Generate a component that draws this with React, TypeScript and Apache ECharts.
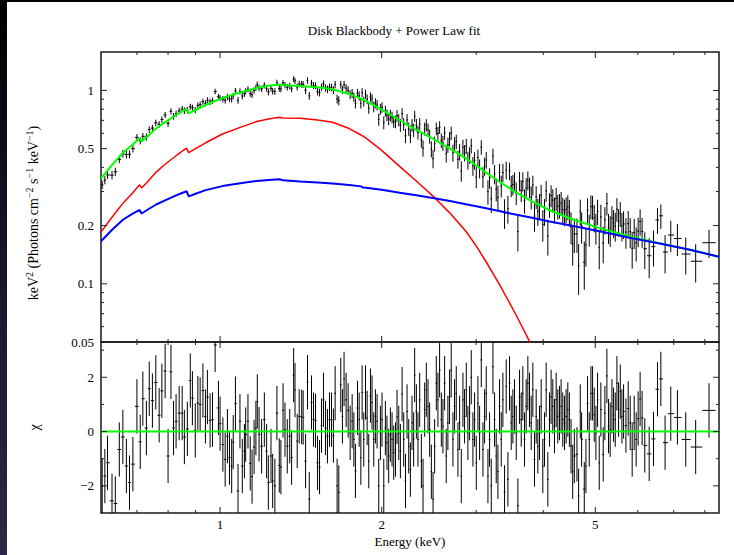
import React, { useEffect, useRef } from "react";
import * as echarts from "echarts";

const FONT = "'Liberation Serif', 'Times New Roman', Times, serif";

const X_MIN = 0.6;
const X_MAX = 8.5;
const FLUX_MIN = 0.05;
const FLUX_MAX = 1.58;
const CHI_MIN = -3;
const CHI_MAX = 3.3;

// model components (keV^2 photons cm^-2 s^-1 keV^-1)
const modelEnergy = [0.6, 0.63, 0.66, 0.685, 0.708, 0.714, 0.73, 0.76, 0.79, 0.82, 0.845, 0.866, 0.874, 0.9, 0.94, 1.01, 1.09, 1.17, 1.23, 1.29, 1.31, 1.41, 1.52, 1.62, 1.74, 1.83, 1.845, 1.87, 2.0, 2.16, 2.32, 2.49, 2.68, 2.87, 3.0, 3.13, 3.31, 3.55, 3.79, 4.11, 4.5, 5.09, 5.8, 6.77, 7.5, 8.5];
const diskBlackbody = [0.185, 0.222, 0.262, 0.292, 0.325, 0.313, 0.333, 0.378, 0.415, 0.45, 0.48, 0.503, 0.477, 0.5, 0.536, 0.595, 0.644, 0.69, 0.712, 0.726, 0.72, 0.717, 0.703, 0.684, 0.635, 0.588, 0.58, 0.567, 0.49, 0.405, 0.34, 0.285, 0.232, 0.187, 0.157, 0.13, 0.1, 0.07, 0.049, 0.03, 0.017, null, null, null, null, null];
const powerLaw = [0.166, 0.191, 0.215, 0.229, 0.241, 0.231, 0.24, 0.257, 0.27, 0.283, 0.293, 0.301, 0.283, 0.292, 0.305, 0.32, 0.331, 0.34, 0.344, 0.347, 0.343, 0.338, 0.334, 0.33, 0.324, 0.319, 0.315, 0.314, 0.306, 0.296, 0.287, 0.278, 0.268, 0.258, 0.252, 0.246, 0.238, 0.228, 0.22, 0.21, 0.2, 0.187, 0.173, 0.159, 0.15, 0.138];
const totalModel = [0.351, 0.413, 0.477, 0.521, 0.566, 0.544, 0.573, 0.635, 0.685, 0.733, 0.773, 0.804, 0.76, 0.792, 0.841, 0.915, 0.975, 1.03, 1.056, 1.073, 1.063, 1.055, 1.037, 1.014, 0.959, 0.907, 0.895, 0.881, 0.796, 0.701, 0.627, 0.563, 0.5, 0.445, 0.409, 0.376, 0.338, 0.298, 0.269, 0.24, 0.217, 0.194, 0.1755, 0.159, 0.15, 0.138];

// spectral bins (keV) and their residuals (chi)
const binEnergy = [
  0.603, 0.61, 0.617, 0.629, 0.638, 0.649, 0.659, 0.669, 0.678, 0.688, 0.7, 0.71, 0.718, 0.729, 0.738, 0.748, 0.759, 0.77, 0.779, 0.79,
  0.8, 0.81, 0.819, 0.828, 0.839, 0.85, 0.858, 0.869, 0.88, 0.888, 0.899, 0.909, 0.918, 0.929, 0.939, 0.947, 0.958, 0.968, 0.979, 0.993,
  1.0, 1.012, 1.022, 1.032, 1.041, 1.051, 1.058, 1.068, 1.08, 1.089, 1.1, 1.11, 1.116, 1.127, 1.138, 1.147, 1.157, 1.166, 1.173,
  1.182, 1.195, 1.209, 1.221, 1.23, 1.244, 1.253, 1.265, 1.276, 1.289, 1.298, 1.31, 1.321, 1.334, 1.348, 1.359, 1.371, 1.379, 1.392, 1.404,
  1.419, 1.428, 1.443, 1.455, 1.466, 1.48, 1.493, 1.506, 1.519, 1.532, 1.545, 1.558, 1.572, 1.585, 1.599, 1.613, 1.626, 1.638, 1.652, 1.664,
  1.678, 1.69, 1.702, 1.717, 1.732, 1.747, 1.762, 1.775, 1.787, 1.803, 1.816, 1.829, 1.839, 1.852, 1.866, 1.879, 1.892, 1.906, 1.919, 1.933,
  1.947, 1.961, 1.975, 1.989, 2.003, 2.018, 2.032, 2.046, 2.061, 2.076, 2.091, 2.106, 2.122, 2.136, 2.152, 2.167, 2.183, 2.198, 2.215, 2.23,
  2.246, 2.262, 2.278, 2.294,
  2.304, 2.321, 2.337, 2.354, 2.371, 2.388, 2.405, 2.422, 2.44, 2.457, 2.475, 2.493, 2.51, 2.528, 2.546, 2.564, 2.583, 2.601, 2.62, 2.638,
  2.657, 2.676, 2.695, 2.715, 2.734, 2.754, 2.774, 2.794, 2.814, 2.834, 2.854, 2.875, 2.895, 2.916, 2.937, 2.958, 2.979, 3.001, 3.022, 3.044,
  3.066, 3.088, 3.11, 3.132, 3.155, 3.177, 3.2, 3.223, 3.246, 3.269, 3.293, 3.316, 3.34, 3.364, 3.388, 3.412, 3.437, 3.461, 3.486, 3.511,
  3.536, 3.562, 3.587, 3.613, 3.639, 3.664, 3.691, 3.717, 3.744, 3.771, 3.798, 3.825, 3.852, 3.88, 3.908, 3.936, 3.964, 3.992, 4.021, 4.05,
  4.079, 4.108, 4.137, 4.167, 4.197, 4.227, 4.257, 4.288, 4.318, 4.349, 4.381, 4.412, 4.444,
  4.474, 4.506, 4.538, 4.57, 4.622, 4.655, 4.688, 4.715, 4.769, 4.803, 4.837, 4.872, 4.907, 4.942, 4.977, 5.013, 5.049, 5.085, 5.121, 5.173,
  5.21, 5.255, 5.292, 5.33, 5.37, 5.408, 5.447, 5.486, 5.525, 5.565, 5.605, 5.645, 5.702, 5.758, 5.808, 5.857, 5.908, 5.958, 6.009, 6.06,
  6.112, 6.182, 6.3, 6.418, 6.529, 6.623, 6.745, 6.911, 7.112, 7.37, 7.691, 8.144,
];
const chiResidual = [
  -2.0, -1.64, -1.15, -2.55, -2.65, -0.66, -0.2, -1.27, -1.88, -1.2, 0.93, -0.38, 1.21, 0.13, 1.58, 1.14, 1.81, 0.6, 1.5, 2.23,
  -0.9, 2.2, 0.13, 0.38, 0.68, 0.68, -0.2, 0.1, 1.88, 1.23, 0.04, 1.05, 1.0, 1.51, 0.56, 1.27, 0.41, 0.44, 3.19, 0.87,
  0.29, -0.48, -1.03, -0.17, -0.96, -1.27, -0.39, 1.03, -2.19, 0.38, -1.27, -0.72, -0.11, 0.38, -1.17, -1.66, -0.57, 0.13, 1.11,
  -0.1, -0.54, 0.44, -0.72, -1.88, -0.9, -1.82, -2.0, 0.68, -1.25, -1.31, 0.78, 0.07, -0.54, -0.17, -0.96, 2.08, 1.53, -0.35, 0.56,
  0.54, 0.52, -1.09, 1.82, -2.49, 1.07, 0.44, 0.4, -1.15, -1.31, 0.22, 1.17, 0.13, -0.17, 0.44, 0.44, -0.15, 1.41, -2.0, -2.24,
  1.72, 0.56, 1.94, 1.17, 0.78, -0.05, 0.38, -0.29, -1.45, 0.87, 0.44, -0.96, 1.44, -0.29, 1.44, 0.5, -1.09, 1.32, 1.07, -0.29,
  0.56, 0.38, -2.0, -0.05, 0.44, -2.0, 0.13, -0.41, -0.9, -0.11, -0.29, -0.78, -0.66, 0.54, -0.05, -0.72, 1.38, -0.29, -1.82, 0.74,
  -0.54, -1.4, 0.32, -0.29,
  2.08, 0.74, -0.29, 1.17, -1.09, -2.0, 0.81, 1.54, 0.93, 0.07, -1.48, -2.49, -0.54, 1.78, 1.17, 2.26, 0.44, 0.2, 1.78, -0.9,
  0.32, 1.28, 2.26, -0.29, 0.93, 1.41, -0.66, 0.32, -1.64, 1.17, 0.56, 1.54, -0.05, 0.68, 2.0, -0.29, 0.44, -1.15, 1.04, -0.05,
  2.64, -0.66, 0.56, 1.41, -1.64, -0.29, -2.0, 2.39, 0.44, -0.9, -1.48, 0.93, -0.29, 1.17, -2.24, 1.66, -1.76, 1.78, 0.32, 0.56,
  0.93, -0.05, -2.73, 1.28, 0.44, 1.41, -0.29, 0.93, 1.78, 1.17, 0.32, 1.54, -1.03, 0.56, -0.54, -0.05, 0.93, -1.27, -0.29, 1.54,
  -1.76, 0.44, 1.28, 0.93, 0.2, 1.17, 0.56, 0.68, 0.93, 0.44, 0.32, 0.56, 0.81,
  0.44, -0.54, -1.48, -0.9, -0.84, -2.37, 0.74, -0.29, -2.12, -1.27, 1.04, -0.29, 1.41, 1.41, 0.62, -0.05, 1.17, -1.15, 0.81, -0.84,
  0.68, 2.05, 0.2, 0.07, 0.93, 0.62, 0.44, 1.78, 0.81, 1.47, 0.56, 0.74, 0.22, 0.85, 0.32, -0.66, 0.32, -0.29, 0.48, 1.2,
  0.5, -0.51, -0.82, -0.27, 1.56, 1.94, -0.41, 0.66, 0.52, -0.29, -0.57, 0.78,
];

const relErrEnergy = [0.6, 0.8, 1.0, 1.3, 1.6, 2.0, 2.5, 3.0, 3.5, 4.0, 4.5, 5.0, 6.0, 7.0, 8.2];
const relErrValue = [0.045, 0.04, 0.037, 0.037, 0.045, 0.065, 0.085, 0.11, 0.13, 0.15, 0.17, 0.18, 0.19, 0.21, 0.19];

const xMajorTicks = [1, 2, 5];
const xMinorTicks = [0.7, 0.8, 0.9, 3, 4, 6, 7, 8];
const xTickLabels = ["1", "2", "5"];
const fluxMajorTicks = [0.05, 0.1, 0.2, 0.5, 1];
const fluxMinorTicks = [0.06, 0.07, 0.08, 0.09, 0.3, 0.4, 0.6, 0.7, 0.8, 0.9];
const fluxTickLabels = ["0.05", "0.1", "0.2", "0.5", "1"];
const chiMajorTicks = [-2, 0, 2];
const chiMinorTicks = [-1, 1, 3];
const chiTickLabels = ["\u22122", "0", "2"];

const TITLE = "Disk Blackbody + Power Law fit";
const Y_TITLE = "keV{sup|2} (Photons cm{sup|\u22122} s{sup|\u22121} keV{sup|\u22121})";
const CHI_TITLE = "\u03c7";
const X_TITLE = "Energy (keV)";

function interpLogLog(xs: number[], ys: number[], x: number): number {
  if (x <= xs[0]) return ys[0];
  for (let i = 1; i < xs.length; i++) {
    if (x <= xs[i]) {
      const t = (Math.log(x) - Math.log(xs[i - 1])) / (Math.log(xs[i]) - Math.log(xs[i - 1]));
      return Math.exp(Math.log(ys[i - 1]) + t * (Math.log(ys[i]) - Math.log(ys[i - 1])));
    }
  }
  return ys[ys.length - 1];
}
function interpLin(xs: number[], ys: number[], x: number): number {
  if (x <= xs[0]) return ys[0];
  for (let i = 1; i < xs.length; i++) {
    if (x <= xs[i]) {
      const t = (Math.log(x) - Math.log(xs[i - 1])) / (Math.log(xs[i]) - Math.log(xs[i - 1]));
      return ys[i - 1] + t * (ys[i] - ys[i - 1]);
    }
  }
  return ys[ys.length - 1];
}

function binEdges(E: number[]): [number, number][] {
  return E.map((e, i) => {
    const l = i > 0 ? Math.sqrt(E[i - 1] * e) : (e * e) / Math.sqrt(e * E[i + 1]);
    const r = i < E.length - 1 ? Math.sqrt(e * E[i + 1]) : (e * e) / Math.sqrt(E[i - 1] * e);
    return [l, r];
  });
}

function buildOption() {
  const edges = binEdges(binEnergy);
  const spectrumData = binEnergy.map((e, i) => {
    const m = interpLogLog(modelEnergy, totalModel, e);
    const sig = m * interpLin(relErrEnergy, relErrValue, e);
    const v = m + chiResidual[i] * sig;
    return [e, v, v - sig, v + sig, edges[i][0], edges[i][1]];
  });
  const residData = binEnergy.map((e, i) => {
    const c = chiResidual[i];
    return [e, c, c - 1, c + 1, edges[i][0], edges[i][1]];
  });

  const errRender = (params: any, api: any) => {
    const e = api.value(0), v = api.value(1);
    const c = api.coord([e, v]);
    const lo = api.coord([e, api.value(2)]);
    const hi = api.coord([e, api.value(3)]);
    const xl = api.coord([api.value(4), v])[0];
    const xr = api.coord([api.value(5), v])[0];
    const st = { stroke: "#000", lineWidth: 1 };
    return {
      type: "group",
      children: [
        { type: "line", shape: { x1: c[0], y1: lo[1], x2: c[0], y2: hi[1] }, style: st },
        { type: "line", shape: { x1: xl, y1: c[1], x2: xr, y2: c[1] }, style: st },
      ],
    };
  };

  type Tick = { axis: "x" | "y"; v: number; len: number; label?: string };
  const makeTicks = (grid: number, yRefForX: number, xRefForY: number, yMaj: number[], yMin: number[], yLabels: string[], xLabels: boolean) => {
    const items: Tick[] = [];
    xMajorTicks.forEach((v, i) => items.push({ axis: "x", v, len: 6, label: xLabels ? xTickLabels[i] : undefined }));
    xMinorTicks.forEach((v) => items.push({ axis: "x", v, len: 3 }));
    yMaj.forEach((v, i) => items.push({ axis: "y", v, len: 6, label: yLabels[i] }));
    yMin.forEach((v) => items.push({ axis: "y", v, len: 3 }));
    const data = items.map((it) => (it.axis === "x" ? [it.v, yRefForX] : [xRefForY, it.v]));
    return {
      type: "custom",
      xAxisIndex: grid,
      yAxisIndex: grid,
      z: 20,
      silent: true,
      encode: { x: 0, y: 1 },
      data,
      renderItem: (params: any, api: any) => {
        const it = items[params.dataIndex];
        const cs = params.coordSys;
        const p = api.coord([api.value(0), api.value(1)]);
        const st = { stroke: "#222", lineWidth: 1 };
        const children: any[] = [];
        if (it.axis === "x") {
          const x = p[0];
          children.push({ type: "line", shape: { x1: x, y1: cs.y + cs.height, x2: x, y2: cs.y + cs.height - it.len }, style: st });
          children.push({ type: "line", shape: { x1: x, y1: cs.y, x2: x, y2: cs.y + it.len }, style: st });
          if (it.label) {
            children.push({
              type: "text", x, y: cs.y + cs.height + 5,
              style: { text: it.label, fill: "#000", fontSize: 13, fontFamily: FONT, align: "center", verticalAlign: "top", textAlign: "center", textVerticalAlign: "top" },
            });
          }
        } else {
          const y = p[1];
          children.push({ type: "line", shape: { x1: cs.x, y1: y, x2: cs.x + it.len, y2: y }, style: st });
          children.push({ type: "line", shape: { x1: cs.x + cs.width, y1: y, x2: cs.x + cs.width - it.len, y2: y }, style: st });
          if (it.label) {
            children.push({
              type: "text", x: cs.x - 7, y,
              style: { text: it.label, fill: "#000", fontSize: 13, fontFamily: FONT, align: "right", verticalAlign: "middle", textAlign: "right", textVerticalAlign: "middle" },
            });
          }
        }
        return { type: "group", children };
      },
    };
  };

  const hiddenAxis = {
    axisLine: { show: false },
    axisTick: { show: false },
    axisLabel: { show: false },
    splitLine: { show: false },
  };
  const nameStyle = { fontFamily: FONT, fontSize: 13, color: "#000" };

  const line = (xs: number[], ys: (number | null)[], color: string, width: number, z: number, grid: number) => ({
    type: "line",
    xAxisIndex: grid,
    yAxisIndex: grid,
    data: xs.map((x, i) => [x, ys[i]]).filter((d) => d[1] !== null),
    showSymbol: false,
    symbol: "none",
    lineStyle: { color, width },
    z,
    silent: true,
    clip: true,
  });

  return {
    animation: false,
    backgroundColor: "#ffffff",
    grid: [
      { left: 101, top: 52, width: 618, height: 290, show: true, borderColor: "#1a1a1a", borderWidth: 1.5, backgroundColor: "transparent" },
      { left: 101, top: 342, width: 618, height: 171, show: true, borderColor: "#1a1a1a", borderWidth: 1.5, backgroundColor: "transparent" },
    ],
    xAxis: [
      { type: "log", logBase: 10, gridIndex: 0, min: X_MIN, max: X_MAX, ...hiddenAxis },
      {
        type: "log", logBase: 10, gridIndex: 1, min: X_MIN, max: X_MAX, ...hiddenAxis,
        name: X_TITLE, nameLocation: "middle", nameGap: 22, nameTextStyle: nameStyle,
      },
    ],
    yAxis: [
      { type: "log", logBase: 10, gridIndex: 0, min: FLUX_MIN, max: FLUX_MAX, ...hiddenAxis },
      {
        type: "value", gridIndex: 1, min: CHI_MIN, max: CHI_MAX, ...hiddenAxis,
        name: CHI_TITLE, nameLocation: "middle", nameGap: 60, nameTextStyle: { ...nameStyle, fontSize: 14 },
      },
    ],
    graphic: [
      {
        type: "text", x: 394, y: 30,
        style: { text: TITLE, fill: "#000", fontSize: 13, fontFamily: FONT, align: "center", verticalAlign: "middle", textAlign: "center", textVerticalAlign: "middle" },
      },
      {
        type: "text", x: 33, y: 213, rotation: Math.PI / 2,
        style: {
          text: Y_TITLE, fill: "#000", fontSize: 14, fontFamily: FONT,
          align: "center", verticalAlign: "middle", textAlign: "center", textVerticalAlign: "middle",
          rich: { sup: { fontFamily: FONT, fontSize: 10, fill: "#000", padding: [0, 0, 7, 0] } },
        },
      },
    ],
    series: [
      {
        type: "custom", name: "spectrum", xAxisIndex: 0, yAxisIndex: 0, z: 2, silent: true, clip: true,
        encode: { x: 0, y: 1 }, data: spectrumData, renderItem: errRender,
      },
      line(modelEnergy, totalModel, "#00ff00", 2, 3, 0),
      line(modelEnergy, diskBlackbody, "#ff0000", 1.5, 4, 0),
      line(modelEnergy, powerLaw, "#0000ff", 2, 5, 0),
      {
        type: "custom", name: "residuals", xAxisIndex: 1, yAxisIndex: 1, z: 2, silent: true, clip: true,
        encode: { x: 0, y: 1 }, data: residData, renderItem: errRender,
      },
      line([X_MIN, X_MAX], [0, 0], "#00ff00", 2, 6, 1),
      makeTicks(0, FLUX_MIN, X_MIN, fluxMajorTicks, fluxMinorTicks, fluxTickLabels, false),
      makeTicks(1, CHI_MIN, X_MIN, chiMajorTicks, chiMinorTicks, chiTickLabels, true),
    ],
  };
}

export default function App() {
  const ref = useRef<HTMLDivElement>(null);
  useEffect(() => {
    if (!ref.current) return;
    const chart = echarts.init(ref.current, null, { renderer: "svg" });
    chart.setOption(buildOption() as any);
    return () => chart.dispose();
  }, []);
  return (
    <div style={{ position: "fixed", left: 0, top: 0, width: 734, height: 555, background: "#fff", overflow: "hidden" }}>
      <div ref={ref} style={{ position: "absolute", left: 0, top: 0, width: 734, height: 555 }} />
      <div style={{ position: "absolute", left: 0, top: 0, width: 734, height: 2, background: "#000" }} />
      <div style={{ position: "absolute", left: 0, top: 0, width: 7, height: 555, background: "linear-gradient(to bottom, #000000 0%, #111122 35%, #2a2a48 100%)" }} />
    </div>
  );
}
